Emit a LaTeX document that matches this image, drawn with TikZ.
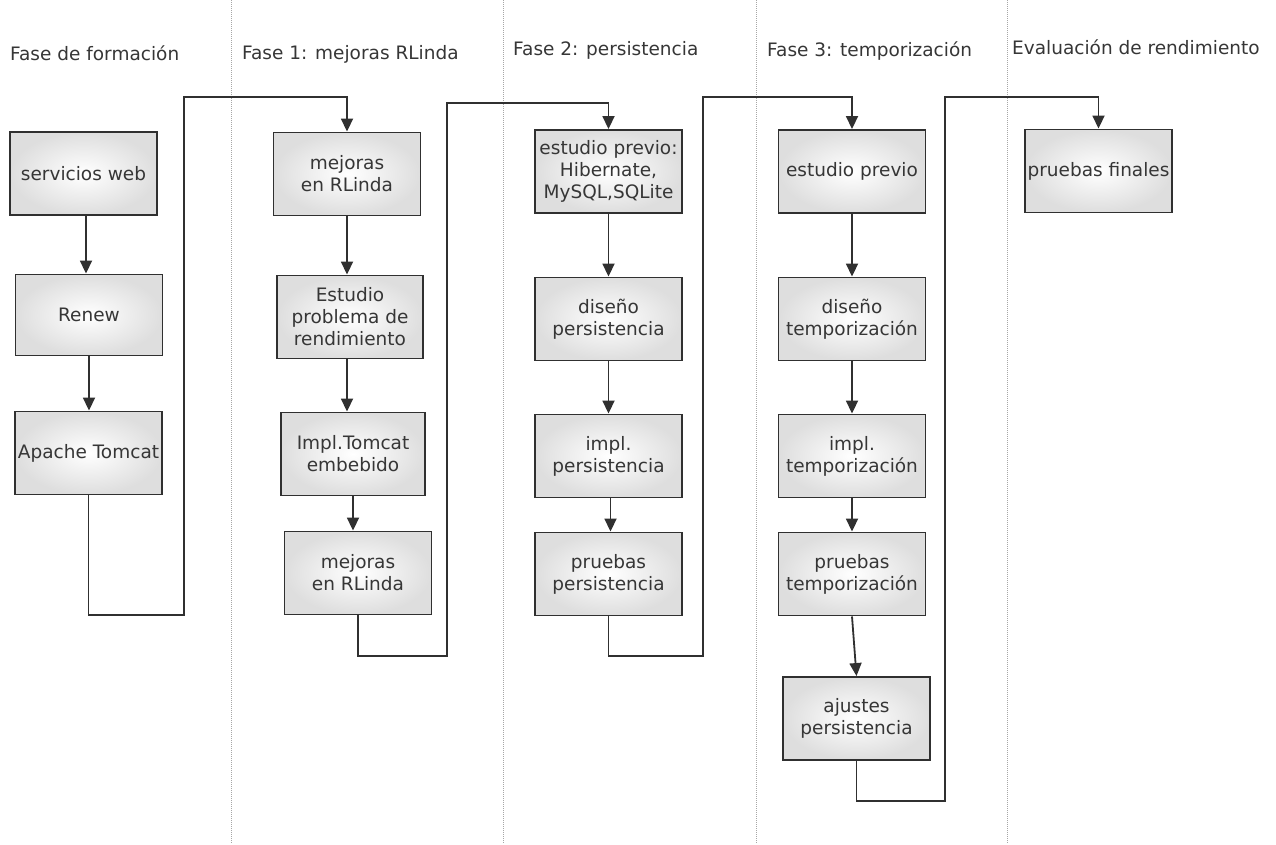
\documentclass[tikz,border=0pt]{standalone}
\usepackage{fontspec}
\setmainfont{DejaVu Sans}
\usetikzlibrary{arrows.meta,calc}
\definecolor{ink}{HTML}{363636}
\definecolor{edge}{HTML}{303030}
\begin{document}
\begin{tikzpicture}[x=1pt,y=-1pt,
  stepbox/.style={draw=edge, line width=1.9pt, inner color=white, outer color=black!13,
    minimum width=147pt, minimum height=83pt, align=center, inner sep=0pt,
    font=\fontsize{18.5}{22}\selectfont, text=ink},
  heading/.style={anchor=base west, inner sep=0pt, font=\fontsize{18.5}{22}\selectfont, text=ink},
  divider/.style={draw=black!35, line width=0.8pt, dash pattern=on 1pt off 1pt},
  link/.style={draw=edge, line width=1.8pt},
  arr/.style={link, -{Triangle[length=13pt,width=12pt]}}]
\useasboundingbox (0,0) rectangle (1276,844);

% column separators
\foreach \x/\n in {231/a,503/b,756/c,1007/d} {
  \coordinate (top\n) at (\x,0);
  \coordinate (bot\n) at (\x,844);
  \draw[divider] (top\n) -- (bot\n);
}

% phase titles
\node[heading] (h0) at (10,60) {Fase de formación};
\node[heading] (h1) at (242,59) {Fase 1: mejoras RLinda};
\node[heading] (h2) at (513,55) {Fase 2: persistencia};
\node[heading] (h3) at (767,56) {Fase 3: temporización};
\node[heading] (h4) at (1012,54) {Evaluación de rendimiento};

% training phase
\node[stepbox] (web)    at (83.5,173.5) {servicios web};
\node[stepbox, minimum height=81pt] (renew) at (89,315) {Renew};
\node[stepbox] (tomcat) at (88.5,453) {Apache Tomcat};

% phase 1
\node[stepbox] (rl1)    at (347,174) {mejoras\\en RLinda};
\node[stepbox, minimum width=146pt] (perf) at (350,317) {Estudio\\problema de\\rendimiento};
\node[stepbox, minimum width=144pt] (emb)  at (353,454) {Impl.Tomcat\\embebido};
\node[stepbox] (rl2)    at (358,573) {mejoras\\en RLinda};

% phase 2
\node[stepbox] (ep1) at (608.5,171.5) {estudio previo:\\Hibernate,\\MySQL,SQLite};
\node[stepbox] (dp)  at (608.5,319) {diseño\\persistencia};
\node[stepbox] (ip)  at (608.5,456) {impl.\\persistencia};
\node[stepbox] (pp)  at (608.5,574) {pruebas\\persistencia};

% phase 3
\node[stepbox] (ep2) at (852,171.5) {estudio previo};
\node[stepbox] (dt)  at (852,319) {diseño\\temporización};
\node[stepbox] (it)  at (852,456) {impl.\\temporización};
\node[stepbox] (pt)  at (852,574) {pruebas\\temporización};
\node[stepbox] (aj)  at (856.5,718.5) {ajustes\\persistencia};

% evaluation
\node[stepbox] (fin) at (1098.5,171) {pruebas finales};

% flow within each phase
\draw[arr] ([xshift=2.5pt]web.south) -- ([xshift=2.5pt]web.south |- renew.north);
\draw[arr] (renew.south) -- (renew.south |- tomcat.north);
\draw[arr] (rl1.south) -- (rl1.south |- perf.north);
\draw[arr] ([xshift=-3pt]perf.south) -- ([xshift=-3pt]perf.south |- emb.north);
\draw[arr] (emb.south) -- (emb.south |- rl2.north);
\draw[arr] (ep1.south) -- (ep1.south |- dp.north);
\draw[arr] (dp.south) -- (dp.south |- ip.north);
\draw[arr] ([xshift=2pt]ip.south) -- ([xshift=2pt]ip.south |- pp.north);
\draw[arr] (ep2.south) -- (ep2.south |- dt.north);
\draw[arr] (dt.south) -- (dt.south |- it.north);
\draw[arr] (it.south) -- (it.south |- pt.north);
\draw[arr] (pt.south) -- (aj.north);

% hand-over between phases
\coordinate (l1a) at (184,615); \coordinate (l1b) at (184,97);
\draw[arr] (tomcat.south) |- (l1a) -- (l1b) -| (rl1.north);
\coordinate (l2a) at (447,656); \coordinate (l2b) at (447,103);
\draw[arr] (rl2.south) |- (l2a) -- (l2b) -| (ep1.north);
\coordinate (l3a) at (703,656); \coordinate (l3b) at (703,97);
\draw[arr] (pp.south) |- (l3a) -- (l3b) -| (ep2.north);
\coordinate (l4a) at (945,801); \coordinate (l4b) at (945,97);
\draw[arr] (aj.south) |- (l4a) -- (l4b) -| (fin.north);
\end{tikzpicture}
\end{document}
